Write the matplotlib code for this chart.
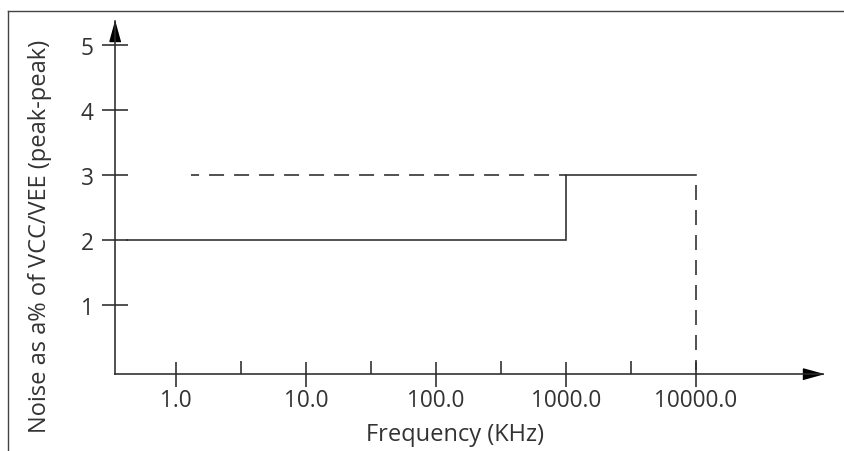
import numpy as np
import matplotlib
matplotlib.use('Agg')
import matplotlib.pyplot as plt
from matplotlib.lines import Line2D

plt.rcParams['font.family'] = ['Open Sans', 'DejaVu Sans']
plt.rcParams['lines.scale_dashes'] = False

# Data
solid_x = [0.42, 1000, 1000, 10000]
solid_y = [2, 2, 3, 3]
dash_h_x = [1.3, 1000]
dash_h_y = [3, 3]
dash_v_x = [10000, 10000]
dash_v_y = [3, 0]

x_major = [1, 10, 100, 1000, 10000]
x_major_labels = ['1.0', '10.0', '100.0', '1000.0', '10000.0']
x_minor = [3.16, 31.6, 316, 3160]
y_ticks = [1, 2, 3, 4, 5]
y_tick_labels = ['1', '2', '3', '4', '5']

ink = '#2b2b2b'
W, H = 844, 452
fs_tick = 16.3
fs_label = 17
lw = 1.15

fig = plt.figure(figsize=(W / 100, H / 100), dpi=100)
ax = fig.add_axes([115 / W, (H - 375) / H, (823 - 115) / W, (375 - 22) / H])

ax.set_xscale('log')
ax.set_xlim(10 ** -0.47, 10 ** 4.98)
ax.set_ylim(-0.057, 5.37)

ax.plot(solid_x, solid_y, color=ink, lw=lw, solid_joinstyle='miter')
ax.plot(dash_h_x, dash_h_y, color=ink, lw=lw, linestyle=(5.0, (10.8, 7.2)))
ax.plot(dash_v_x, dash_v_y, color=ink, lw=lw, linestyle=(10.8, (10.8, 7.2)))

for side in ['top', 'right']:
    ax.spines[side].set_visible(False)
for side in ['left', 'bottom']:
    ax.spines[side].set_color(ink)
    ax.spines[side].set_linewidth(lw)

# arrow heads at axis ends
head = [(0, 0), (-2, 0.55), (-2, -0.55)]
ax.plot([1], [0], marker=head, markersize=28.8, color='black',
        transform=ax.transAxes, clip_on=False)
head_up = [(0, 0), (-0.55, -2), (0.55, -2)]
ax.plot([0], [1], marker=head_up, markersize=28.8, color='black',
        transform=ax.transAxes, clip_on=False)

ax.set_xticks(x_major)
ax.set_xticklabels(x_major_labels)
ax.set_xticks(x_minor, minor=True)
ax.set_xticklabels([], minor=True)
ax.set_yticks(y_ticks)
ax.set_yticklabels(y_tick_labels)

ax.tick_params(axis='x', which='major', direction='inout', length=18, width=lw,
               color=ink, labelsize=fs_tick, labelcolor='#333333', pad=1)
ax.tick_params(axis='x', which='minor', direction='in', length=9.4, width=lw,
               color=ink)
ax.tick_params(axis='y', which='major', direction='inout', length=18.7, width=lw,
               color=ink, labelsize=fs_tick, labelcolor='#333333', pad=6)
ax.tick_params(axis='y', which='minor', left=False)

fig.text(455.5 / W, (H - 435) / H, 'Frequency (KHz)', ha='center', va='center',
         fontsize=fs_label, color='#333333')
fig.text(40 / W, (H - 236) / H, 'Noise as a% of VCC/VEE (peak-peak)', ha='center',
         va='center', rotation=90, fontsize=fs_label, color='#333333')

# frame lines (top and left) around the figure
fig.add_artist(Line2D([8 / W, 1], [(H - 12) / H, (H - 12) / H], color='#444444', lw=1.0))
fig.add_artist(Line2D([8 / W, 8 / W], [0, (H - 12) / H], color='#444444', lw=1.0))

fig.savefig('out.png', dpi=100)
